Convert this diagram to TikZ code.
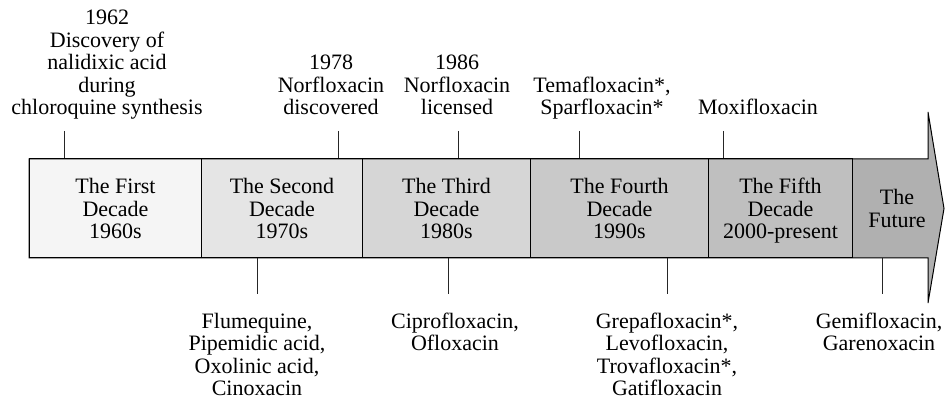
\documentclass[tikz,border=0pt]{standalone}
\usepackage{fontspec}
\setmainfont{Liberation Serif}
\definecolor{c1}{gray}{0.96}
\definecolor{c2}{gray}{0.90}
\definecolor{c3}{gray}{0.84}
\definecolor{c4}{gray}{0.79}
\definecolor{c5}{gray}{0.75}
\definecolor{c6}{gray}{0.69}
\begin{document}
\begin{tikzpicture}[x=1pt,y=-1pt,
  lab/.style={align=center,inner sep=0pt,font=\fontsize{22}{22.5}\selectfont},
  toplab/.style={lab,anchor=south},
  botlab/.style={lab,anchor=north},
  decbox/.style={lab,draw=black,line width=1pt,minimum height=99pt,anchor=west},
  tickline/.style={line width=0.8pt,draw=black!85},
  outline/.style={line width=1pt,draw=black,line join=miter}
]
\useasboundingbox (0,0) rectangle (945,403);
% arrow body
\fill[c6] (29,159) -- (928,159) -- (928,112) -- (944,208.5) -- (928,303) -- (928,258) -- (29,258) -- cycle;
% decade boxes
\node[decbox,fill=c1,minimum width=172pt] (d1) at (29,208.5) {The First\\Decade\\1960s};
\node[decbox,fill=c2,minimum width=161pt] (d2) at (201,208.5) {The Second\\Decade\\1970s};
\node[decbox,fill=c3,minimum width=168pt] (d3) at (362,208.5) {The Third\\Decade\\1980s};
\node[decbox,fill=c4,minimum width=178pt] (d4) at (530,208.5) {The Fourth\\Decade\\1990s};
\node[decbox,fill=c5,minimum width=144pt] (d5) at (708,208.5) {The Fifth\\Decade\\2000-\smash{p}resent};
\node[lab] (d6) at (897,208.5) {The\\Future};
\draw[outline] (29,159) -- (928,159) -- (928,112) -- (944,208.5) -- (928,303) -- (928,258) -- (29,258) -- cycle;
% top labels
\node[toplab] (l1) at (107,121.75) {1962\\Discovery of\\nalidixic acid\\during\\chloroquine synthesis\strut};
\node[toplab] (l2) at (331,121.75) {1978\\Norfloxacin\\discovered\strut};
\node[toplab] (l3) at (457,121.75) {1986\\Norfloxacin\\licensed\strut};
\node[toplab] (l4) at (602,121.75) {Temafloxacin*,\\Sparfloxacin*\strut};
\node[toplab] (l5) at (758,121.75) {Moxifloxacin\strut};
% bottom labels
\node[botlab] (b1) at (257,312.25) {\strut Flumequine,\\Pipemidic acid,\\Oxolinic acid,\\Cinoxacin};
\node[botlab] (b2) at (455,312.25) {\strut Ciprofloxacin,\\Ofloxacin};
\node[botlab] (b3) at (667,312.25) {\strut Grepafloxacin*,\\Levofloxacin,\\Trovafloxacin*,\\Gatifloxacin};
\node[botlab] (b4) at (879,312.25) {\strut Gemifloxacin,\\Garenoxacin};
% tick ends
\coordinate (t1) at (64,131);
\coordinate (t2) at (338,131);
\coordinate (t3) at (458,131);
\coordinate (t4) at (579,131);
\coordinate (t5) at (723,131);
\coordinate (u1) at (257,294);
\coordinate (u2) at (448,294);
\coordinate (u3) at (667,294);
\coordinate (u4) at (882,294);
\draw[tickline] (t1) -- (t1 |- d1.north);
\draw[tickline] (t2) -- (t2 |- d2.north);
\draw[tickline] (t3) -- (t3 |- d3.north);
\draw[tickline] (t4) -- (t4 |- d4.north);
\draw[tickline] (t5) -- (t5 |- d5.north);
\draw[tickline] (u1) -- (u1 |- d2.south);
\draw[tickline] (u2) -- (u2 |- d3.south);
\draw[tickline] (u3) -- (u3 |- d4.south);
\draw[tickline] (u4) -- (u4 |- d5.south);
\end{tikzpicture}
\end{document}
